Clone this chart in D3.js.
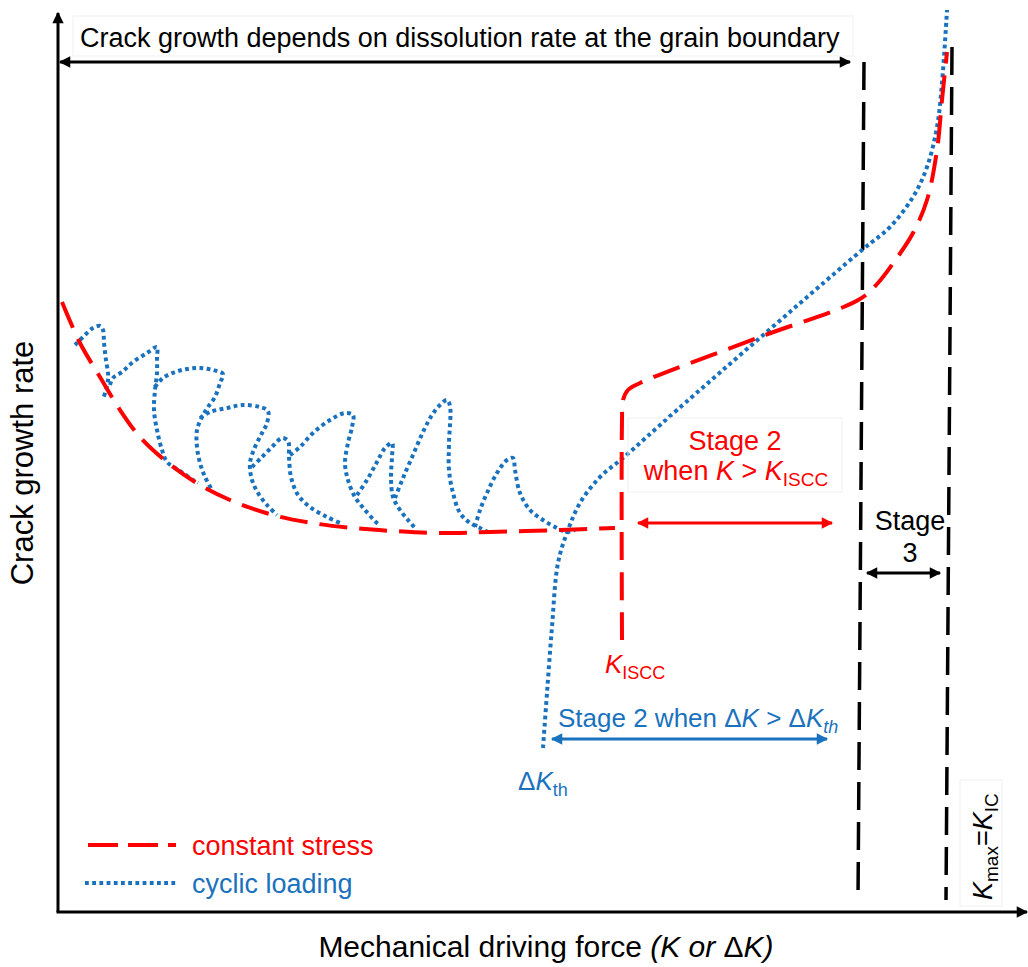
<!DOCTYPE html>
<head>
  <meta charset="utf-8">
  <script src="https://cdn.jsdelivr.net/npm/d3@7/dist/d3.min.js"></script>
  <style>
    body { margin:0; background:#fff; }
    svg { display:block; }
    text { font-family: "Liberation Sans", Arial, sans-serif; }
  </style>
</head>
<body>
<script>
  // schematic units: x = driving force, y = growth rate (arbitrary)
  var constantStressLow = [[0.4,61.0],[2.2,56.9],[4.2,53.5],[6.2,50.2],[8.2,47.5],[10.9,45.0],[14.2,42.7],
    [17.2,41.2],[21.5,39.7],[25.4,38.9],[29.5,38.4],[33.5,38.1],[37.9,37.9],[43.2,38.0],[50.2,38.2],[55.7,38.4]];
  var constantStressHigh = [[56.4,27.2],[56.4,49.2],[56.5,51.2],[57.0,52.2],[58.2,52.9],[70.2,57.5],[80.2,61.3],
    [82.0,62.9],[83.6,65.0],[85.5,67.9],[86.9,71.2],[87.9,76.2],[88.4,81.2],[88.9,86.0]];

  var cyclicMain = [[48.5,16.4],[48.9,21.9],[49.4,28.5],[50.0,34.9],[51.0,38.2],[52.2,40.9],[54.2,43.5],
    [56.5,45.4],[61.9,50.2],[80.4,66.2],[83.2,68.5],[85.5,71.5],[86.9,74.5],[87.9,78.5],[88.4,82.9],[88.9,90.2]];

  var cyclicTeeth = [
    [[1.7,56.7],[2.7,57.7],[3.5,58.4],[4.2,58.6],[4.5,58.2],[4.6,56.9],[4.8,55.2],[5.0,53.9],[5.0,53.2],[4.8,52.2],[4.5,51.3]],
    [[5.2,52.7],[5.5,53.4],[6.4,54.0],[7.5,55.0],[8.9,55.9],[9.9,56.5],[9.9,55.5],[9.9,53.9],[9.7,52.2],[9.6,50.2],
     [9.9,48.2],[10.4,46.2],[10.9,45.0],[11.7,44.4],[12.5,43.9],[13.5,43.2],[14.0,42.9]],
    [[9.7,52.5],[10.5,53.4],[11.7,54.0],[12.9,54.3],[14.2,54.4],[15.5,54.2],[16.5,53.8],[16.2,52.9],[15.7,51.5],
     [15.0,50.5],[14.4,49.5],[13.9,48.2],[13.9,46.5],[14.2,44.9],[14.7,43.5],[15.4,42.2]],
    [[14.2,49.4],[15.2,50.0],[16.9,50.4],[18.5,50.7],[20.2,50.5],[21.0,50.1],[20.9,48.9],[20.4,47.9],[19.7,46.5],
     [19.2,44.9],[19.4,43.2],[20.0,41.9],[20.9,40.7],[21.9,39.7]],
    [[19.4,44.5],[20.4,45.5],[21.4,46.5],[22.4,47.4],[23.0,47.1],[23.1,45.5],[23.3,43.5],[24.0,41.7],[25.2,40.5],
     [26.9,39.5],[28.2,38.9]],
    [[23.2,45.7],[24.2,46.5],[25.5,47.9],[27.2,49.2],[28.7,49.9],[29.5,49.7],[29.4,48.5],[29.0,46.9],[28.7,44.9],
     [29.0,43.2],[29.7,41.5],[30.7,40.2],[31.9,38.9],[32.2,38.7]],
    [[29.9,41.7],[30.9,43.2],[31.9,45.0],[32.7,46.4],[33.4,46.9],[33.4,45.5],[33.3,43.5],[33.5,41.5],[34.2,40.2],
     [35.0,39.2],[35.7,38.4]],
    [[33.7,41.4],[34.5,43.4],[35.5,45.7],[36.5,48.0],[37.4,49.7],[38.2,50.7],[38.9,51.2],[39.2,50.6],[39.1,46.9],
     [39.1,44.2],[39.5,41.9],[40.2,39.9],[41.2,38.9],[42.2,38.4],[43.0,38.0]],
    [[41.7,38.5],[42.2,40.2],[42.9,41.9],[43.9,43.9],[44.9,45.2],[45.5,45.4],[45.7,44.2],[46.2,41.9],[47.2,40.2],
     [48.5,39.2],[49.9,38.4],[50.9,38.0],[51.7,38.2]]
  ];

  // stage boundaries (dashed black) and range arrows
  var stageBounds = [[[80.6,85.0],[80.0,1.2]], [[89.4,86.5],[88.8,1.2]]];
  var dissolutionRange = [0.2, 79.2, 85.0];
  var stage2Stress = [58.0, 77.4, 38.9];
  var stage2Cyclic = [49.4, 76.9, 17.3];
  var stage3Range = [80.9, 88.2, 33.9];

  var red = "#ff0000", blue = "#1a72be";

  var width = 1028, height = 967;
  var svg = d3.select("body").append("svg").attr("width", width).attr("height", height);

  var x = d3.scaleLinear().domain([0, 97]).range([58, 1028]);
  var y = d3.scaleLinear().domain([0, 90]).range([912, 12]);

  var defs = svg.append("defs");
  function marker(id, color) {
    defs.append("marker").attr("id", id).attr("viewBox", "0 0 10 10")
      .attr("refX", 9).attr("refY", 5).attr("markerWidth", 4.5).attr("markerHeight", 3.8)
      .attr("orient", "auto-start-reverse").attr("markerUnits", "strokeWidth")
      .append("path").attr("d", "M0,0 L10,5 L0,10 z").attr("fill", color);
  }
  marker("ab", "#000"); marker("ar", red); marker("abl", blue);

  var line = d3.line().x(function(d){ return x(d[0]); }).y(function(d){ return y(d[1]); })
    .curve(d3.curveCatmullRom.alpha(0.5));

  // axes
  svg.append("line").attr("x1", x(0)).attr("y1", y(0)).attr("x2", x(0)).attr("y2", y(89.9))
    .attr("stroke", "#000").attr("stroke-width", 3).attr("marker-end", "url(#ab)");
  svg.append("line").attr("x1", x(0) - 1.5).attr("y1", y(0)).attr("x2", x(96.9)).attr("y2", y(0))
    .attr("stroke", "#000").attr("stroke-width", 3).attr("marker-end", "url(#ab)");

  // stage boundaries
  stageBounds.forEach(function(b) {
    svg.append("line").attr("x1", x(b[0][0])).attr("y1", y(b[0][1])).attr("x2", x(b[1][0])).attr("y2", y(b[1][1]))
      .attr("stroke", "#000").attr("stroke-width", 3.5).attr("stroke-dasharray", "28,12");
  });

  // cyclic loading
  cyclicTeeth.concat([cyclicMain]).forEach(function(seg) {
    svg.append("path").attr("d", line(seg)).attr("fill", "none")
      .attr("stroke", blue).attr("stroke-width", 4).attr("stroke-dasharray", "3.8,3.4");
  });

  // constant stress
  [constantStressLow, constantStressHigh].forEach(function(seg) {
    svg.append("path").attr("d", line(seg)).attr("fill", "none")
      .attr("stroke", red).attr("stroke-width", 4).attr("stroke-dasharray", "28,12");
  });

  function rangeArrow(r, color, mk) {
    svg.append("line").attr("x1", x(r[0])).attr("x2", x(r[1])).attr("y1", y(r[2])).attr("y2", y(r[2]))
      .attr("stroke", color).attr("stroke-width", 3)
      .attr("marker-start", "url(#" + mk + ")").attr("marker-end", "url(#" + mk + ")");
  }
  rangeArrow(dissolutionRange, "#000", "ab");
  rangeArrow(stage2Stress, red, "ar");
  rangeArrow(stage2Cyclic, blue, "abl");
  rangeArrow(stage3Range, "#000", "ab");

  // faint text boxes
  [[73, 16, 780, 40], [628, 418, 214, 74], [960, 780, 42, 126]].forEach(function(b) {
    svg.append("rect").attr("x", b[0]).attr("y", b[1]).attr("width", b[2]).attr("height", b[3])
      .attr("fill", "none").attr("stroke", "#f0f0f0").attr("stroke-width", 1);
  });

  // labels
  svg.append("text").attr("x", 80).attr("y", 47).attr("font-size", 27)
    .text("Crack growth depends on dissolution rate at the grain boundary");

  svg.append("text").attr("transform", "translate(33,463) rotate(-90)").attr("text-anchor", "middle")
    .attr("font-size", 31).text("Crack growth rate");

  var xl = svg.append("text").attr("x", 546).attr("y", 957).attr("text-anchor", "middle").attr("font-size", 30);
  xl.append("tspan").text("Mechanical driving force ");
  xl.append("tspan").attr("font-style", "italic").text("(K or ");
  xl.append("tspan").text("\u0394");
  xl.append("tspan").attr("font-style", "italic").text("K)");

  // stage 2 (constant stress)
  svg.append("text").attr("x", 735).attr("y", 450).attr("text-anchor", "middle").attr("font-size", 27)
    .attr("fill", red).text("Stage 2");
  var t2 = svg.append("text").attr("x", 736).attr("y", 480).attr("text-anchor", "middle").attr("font-size", 27).attr("fill", red);
  t2.append("tspan").text("when ");
  t2.append("tspan").attr("font-style", "italic").text("K");
  t2.append("tspan").text(" > ");
  t2.append("tspan").attr("font-style", "italic").text("K");
  t2.append("tspan").attr("font-size", 19).attr("dy", 6).text("ISCC");

  var kis = svg.append("text").attr("x", 605).attr("y", 673).attr("font-size", 26).attr("fill", red);
  kis.append("tspan").attr("font-style", "italic").text("K");
  kis.append("tspan").attr("font-size", 18).attr("dy", 6).text("ISCC");

  // stage 2 (cyclic)
  var tc = svg.append("text").attr("x", 558).attr("y", 727).attr("font-size", 26).attr("fill", blue);
  tc.append("tspan").text("Stage 2 when \u0394");
  tc.append("tspan").attr("font-style", "italic").text("K");
  tc.append("tspan").text(" > \u0394");
  tc.append("tspan").attr("font-style", "italic").text("K");
  tc.append("tspan").attr("font-style", "italic").attr("font-size", 18).attr("dy", 6).text("th");

  var dk = svg.append("text").attr("x", 518).attr("y", 790).attr("font-size", 26).attr("fill", blue);
  dk.append("tspan").text("\u0394");
  dk.append("tspan").attr("font-style", "italic").text("K");
  dk.append("tspan").attr("font-size", 18).attr("dy", 6).text("th");

  // stage 3
  svg.append("text").attr("x", 910).attr("y", 530).attr("text-anchor", "middle").attr("font-size", 27).text("Stage");
  svg.append("text").attr("x", 910).attr("y", 562).attr("text-anchor", "middle").attr("font-size", 27).text("3");

  var kic = svg.append("text").attr("transform", "translate(992,900) rotate(-90)").attr("font-size", 27);
  kic.append("tspan").attr("font-style", "italic").text("K");
  kic.append("tspan").attr("font-size", 19).attr("dy", 6).text("max");
  kic.append("tspan").attr("dy", -6).text("=");
  kic.append("tspan").attr("font-style", "italic").text("K");
  kic.append("tspan").attr("font-size", 19).attr("dy", 6).text("IC");

  // legend
  svg.append("line").attr("x1", 88).attr("x2", 176).attr("y1", 845).attr("y2", 845)
    .attr("stroke", red).attr("stroke-width", 4).attr("stroke-dasharray", "30,10");
  svg.append("line").attr("x1", 85).attr("x2", 176).attr("y1", 883).attr("y2", 883)
    .attr("stroke", blue).attr("stroke-width", 4).attr("stroke-dasharray", "3.8,3.4");
  svg.append("text").attr("x", 192).attr("y", 855).attr("font-size", 27).attr("fill", red).text("constant stress");
  svg.append("text").attr("x", 192).attr("y", 893).attr("font-size", 27).attr("fill", blue).text("cyclic loading");
</script>
</body>
